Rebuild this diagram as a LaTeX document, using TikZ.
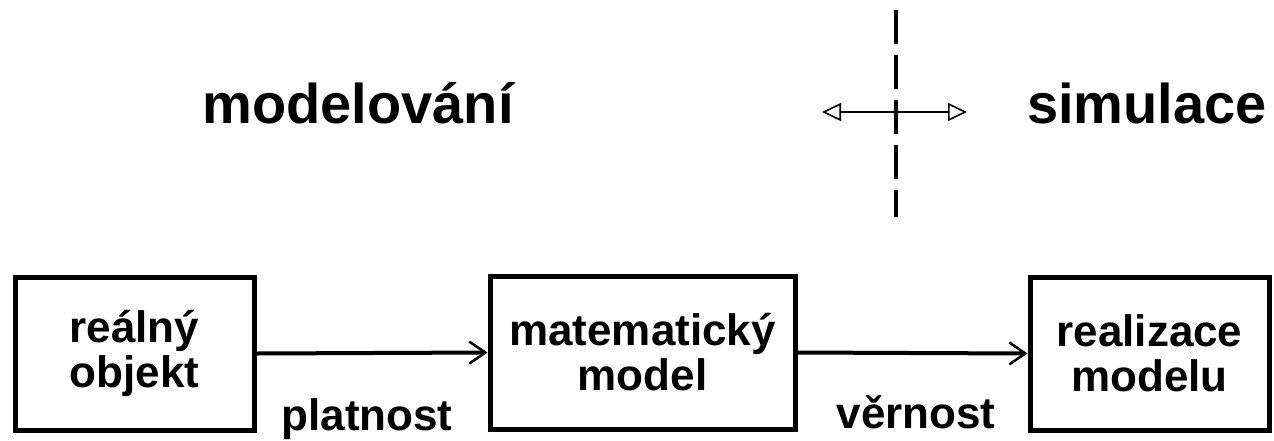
\documentclass[tikz,border=0pt]{standalone}
\usepackage{fontspec}
\setmainfont{Liberation Sans}
\usetikzlibrary{arrows.meta}
\tikzset{
  box/.style={draw, line width=5pt, minimum height=153pt, inner sep=0pt, align=center,
    font=\bfseries\fontsize{44}{45}\selectfont},
  lbl/.style={font=\bfseries\fontsize{44}{45}\selectfont, anchor=base, inner sep=0pt},
  title/.style={font=\bfseries\fontsize{56}{58}\selectfont, anchor=base, inner sep=0pt},
  flow/.style={line width=4pt, -{Straight Barb[length=16pt,width=22pt,line width=2.5pt]}},
  divider/.style={line width=4.5pt, dash pattern=on 34pt off 11pt},
  both/.style={line width=1.6pt, {Triangle[open,length=19pt,width=18pt,line width=1.6pt]}-{Triangle[open,length=19pt,width=18pt,line width=1.6pt]}}
}
\begin{document}
\begin{tikzpicture}[x=1pt,y=-1pt]
\useasboundingbox (0,0) rectangle (1274,440);
\node[box, minimum width=239pt] (real) at (134.5,353.5) {reálný\\objekt};
\node[box, minimum width=305pt] (mat) at (642.5,352.5) {matematický\\model};
\node[box, minimum width=239pt] (rea) at (1149.5,353.5) {realizace\\modelu};
\draw[flow] (real.east) -- (mat.west);
\draw[flow] (mat.east) -- (rea.west);
\node[lbl] (plat) at (367,430) {platnost};
\node[lbl] (vern) at (916,428) {věrnost};
\node[title] (modl) at (358,123) {modelování};
\node[title] (sim) at (1147,123) {simulace};
\coordinate (dtop) at (896,10);
\coordinate (dbot) at (896,217);
\draw[divider] (dtop) -- (dbot);
\coordinate (aleft) at (822,112);
\coordinate (aright) at (967,112);
\draw[both] (aleft) -- (aright);
\end{tikzpicture}
\end{document}
